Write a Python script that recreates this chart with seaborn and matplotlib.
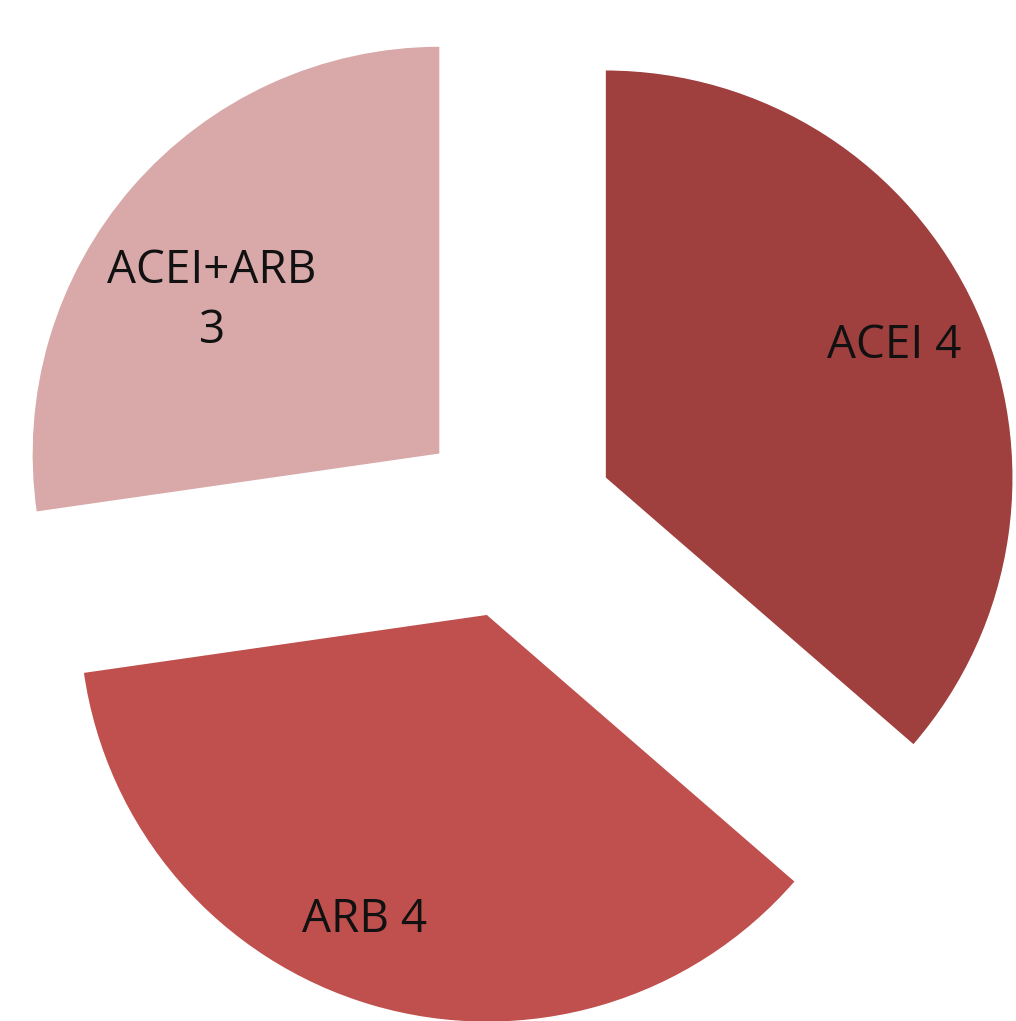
import matplotlib
matplotlib.use('Agg')
import matplotlib.pyplot as plt
import seaborn as sns

sns.set_theme(style='white')
plt.rcParams['font.family'] = ['Open Sans', 'DejaVu Sans']

labels = ['ACEI 4', 'ARB 4', 'ACEI+ARB\n3']
counts = [4, 4, 3]
colors = ['#9F3F3E', '#C0504D', '#D9A8A8']
explode = [0.243, 0.243, 0.243]
# small label nudges (data units) so labels sit like in the original
nudges = [(0.0, 0.0), (-0.08, 0.0), (0.03, -0.135)]

fig = plt.figure(figsize=(10.16, 10.21), dpi=100)
ax = fig.add_axes([0, 0, 1, 1])
wedges, texts = ax.pie(counts, labels=labels, colors=colors, explode=explode,
                       startangle=90, counterclock=False, radius=1,
                       labeldistance=0.78,
                       textprops={'fontsize': 33, 'color': '#111111',
                                  'ha': 'center', 'va': 'center',
                                  'linespacing': 1.4})
for t, (dx, dy) in zip(texts, nudges):
    t.set_horizontalalignment('center')
    x, y = t.get_position()
    t.set_position((x + dx, y + dy))
ax.set_aspect('auto')
ax.set_xlim(-1.262, 1.228)
ax.set_ylim(-1.230, 1.272)
ax.axis('off')
plt.savefig('out.png', dpi=100)
